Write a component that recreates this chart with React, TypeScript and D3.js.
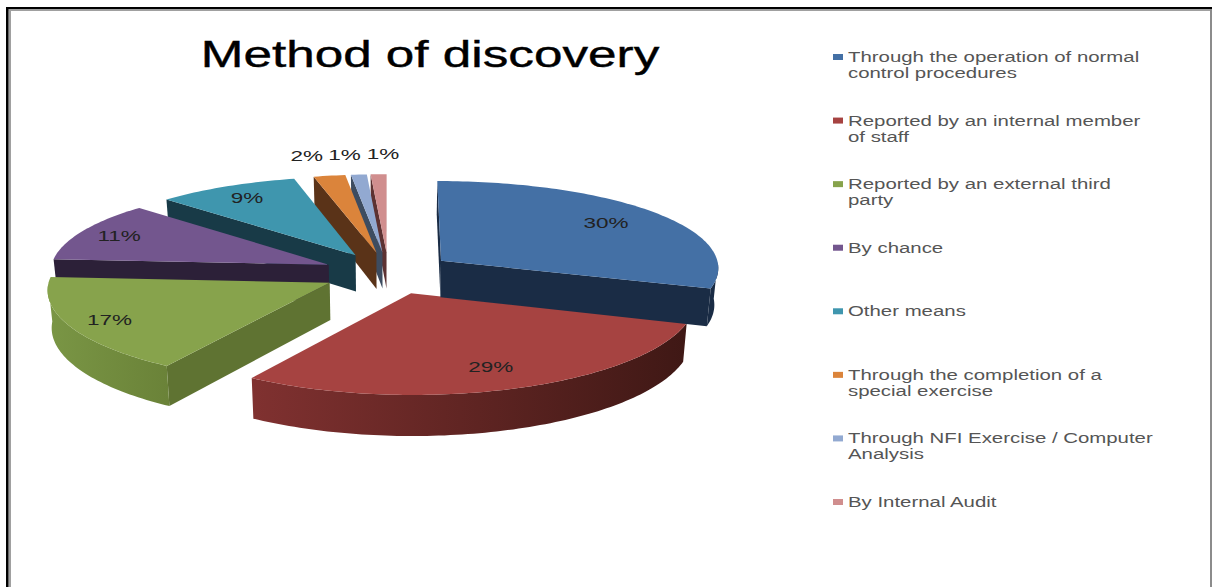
import React from "react";
import * as d3 from "d3";

const categories = [
  ["Through the operation of normal", "control procedures"],
  ["Reported by an internal member", "of staff"],
  ["Reported by an external third", "party"],
  ["By chance"],
  ["Other means"],
  ["Through the completion of a", "special exercise"],
  ["Through NFI Exercise / Computer", "Analysis"],
  ["By Internal Audit"],
];
const shares = [30, 29, 17, 11, 9, 2, 1, 1];
const topColors = ["#4470a5", "#a64341", "#87a34c", "#73568e", "#3f96ae", "#db843b", "#92a9d1", "#d08e8e"];
const sideColors = ["#1a2c45", "#3f1815", "#5f7332", "#2c2038", "#183a47", "#5a3318", "#3d4c60", "#5d3232"];
const wallLeftColors = ["#1a2c45", "#803130", "#7a9645", "#2c2038", "#183a47", "#5a3318", "#3d4c60", "#5d3232"];
const wallRightColors = ["#1a2c45", "#3f1815", "#6a8238", "#2c2038", "#183a47", "#5a3318", "#3d4c60", "#5d3232"];

// Painter's order: the far slices first, the near ones on top.
const paintOrder = [7, 6, 5, 4, 3, 2, 1, 0];
// Small slices carry their labels outside the rim, shifted apart so they do not collide.
const labelRadius = [0.77, 0.78, 0.85, 0.85, 0.83, 1.3, 1.3, 1.3];
const labelShift = [0, 0, 0, 0, 0, -10, -8, 6.5];

const WIDTH = 1212;
const HEIGHT = 587;
const CX = 388.5;
const CY = 273;
const RX = 279;
const RY = 90;
const DEPTH = 37;
const EXPLODE = 0.235;
const PERSPECTIVE_X = 0.07;
const PERSPECTIVE_Y = 0.09;
const BASE_SHRINK = 0.988;

type Pt = [number, number];

// Ground plane to screen, with a mild perspective that enlarges what is nearer the viewer.
function project(gx: number, gy: number, lowered: boolean): Pt {
  const xs = CX + RX * gx * (1 + PERSPECTIVE_X * gy);
  const ys = CY + (RY * gy + (lowered ? DEPTH : 0)) * (1 + PERSPECTIVE_Y * gy);
  return lowered ? [CX + (xs - CX) * BASE_SHRINK, ys] : [xs, ys];
}

const pieLayout = d3.pie<number>().sort(null).startAngle(0).endAngle(2 * Math.PI);
const toPath = d3.line<Pt>();

function Slice({ index, a0, a1 }: { index: number; a0: number; a1: number }) {
  const mid = (a0 + a1) / 2;
  const ox = EXPLODE * Math.sin(mid);
  const oy = -EXPLODE * Math.cos(mid);
  const rim = (a: number, lowered: boolean) =>
    project(ox + Math.sin(a), oy - Math.cos(a), lowered);
  const steps = Math.max(4, Math.ceil((a1 - a0) / 0.02));
  const angles = d3.range(steps + 1).map((i) => a0 + ((a1 - a0) * i) / steps);

  const apexTop = project(ox, oy, false);
  const apexBase = project(ox, oy, true);

  const topFace: Pt[] = [apexTop, ...angles.map((a) => rim(a, false))];

  // Radial cut faces, kept only when they turn toward the viewer.
  const startFace: Pt[] = [apexTop, rim(a0, false), rim(a0, true), apexBase];
  const endFace: Pt[] = [apexTop, apexBase, rim(a1, true), rim(a1, false)];
  const cuts = [startFace, endFace].filter((f) => d3.polygonArea(f) > 0);

  // The outer wall shows only along the front half of the rim.
  const wallAngles = angles.filter((a) => a >= Math.PI / 2 && a <= 1.5 * Math.PI);
  const wall: Pt[] =
    wallAngles.length > 1
      ? [...wallAngles.map((a) => rim(a, false)), ...wallAngles.slice().reverse().map((a) => rim(a, true))]
      : [];
  const xs = wall.map((p) => p[0]);
  const gradId = `wall-${index}`;

  return (
    <g>
      {cuts.map((f, i) => (
        <path key={i} d={toPath(f) + "Z"} fill={sideColors[index]} />
      ))}
      {wall.length > 0 && (
        <>
          <defs>
            <linearGradient id={gradId} gradientUnits="userSpaceOnUse" x1={d3.min(xs)} x2={d3.max(xs)} y1={0} y2={0}>
              <stop offset="0" stopColor={wallLeftColors[index]} />
              <stop offset="1" stopColor={wallRightColors[index]} />
            </linearGradient>
          </defs>
          <path d={toPath(wall) + "Z"} fill={`url(#${gradId})`} />
        </>
      )}
      <path d={toPath(topFace) + "Z"} fill={topColors[index]} />
    </g>
  );
}

function StretchedText({ x, y, size, sx, anchor, fill, weight, children }: any) {
  return (
    <text
      transform={`translate(${x},${y}) scale(${sx},1)`}
      fontFamily="'Liberation Sans', Arial, sans-serif"
      fontSize={size}
      textAnchor={anchor}
      fill={fill}
      stroke={weight ? fill : "none"}
      strokeWidth={weight || 0}
    >
      {children}
    </text>
  );
}

export default function App() {
  const arcs = pieLayout(shares);

  const legendY = d3.scaleLinear().domain([0, categories.length - 1]).range([62, 507]);

  const labels = arcs.map((d, i) => {
    const mid = (d.startAngle + d.endAngle) / 2;
    const ox = (EXPLODE + labelRadius[i]) * Math.sin(mid);
    const oy = -(EXPLODE + labelRadius[i]) * Math.cos(mid);
    const [x, y] = project(ox, oy, false);
    return { x: x + labelShift[i], y: y + 5.5, text: `${shares[i]}%` };
  });

  return (
    <svg
      width={WIDTH}
      height={HEIGHT}
      viewBox={`0 0 ${WIDTH} ${HEIGHT}`}
      style={{ position: "absolute", left: 0, top: 0, background: "#fff" }}
    >
      {/* frame */}
      <rect x={8.5} y={9} width={WIDTH} height={2} fill="#a0a0a0" />
      <rect x={8.5} y={9} width={2.5} height={HEIGHT} fill="#a0a0a0" />
      <rect x={6} y={7} width={WIDTH} height={2} fill="#000" />
      <rect x={6} y={7} width={2.5} height={HEIGHT} fill="#000" />
      <rect x={1210} y={9} width={2} height={HEIGHT} fill="#8c8c8c" />

      <StretchedText x={430} y={67} size={37} sx={1.385} anchor="middle" fill="#000" weight={0.4}>
        Method of discovery
      </StretchedText>

      {paintOrder.map((i) => (
        <Slice key={i} index={i} a0={arcs[i].startAngle} a1={arcs[i].endAngle} />
      ))}

      {labels.map((l, i) => (
        <StretchedText key={i} x={l.x} y={l.y} size={15} sx={1.5} anchor="middle" fill="#222">
          {l.text}
        </StretchedText>
      ))}

      {categories.map((lines, i) => (
        <g key={i}>
          <rect x={833} y={legendY(i) - 8} width={10} height={6} fill={topColors[i]} />
          {lines.map((line, j) => (
            <StretchedText key={j} x={848} y={legendY(i) + j * 16} size={15} sx={1.36} anchor="start" fill="#555">
              {line}
            </StretchedText>
          ))}
        </g>
      ))}
    </svg>
  );
}
